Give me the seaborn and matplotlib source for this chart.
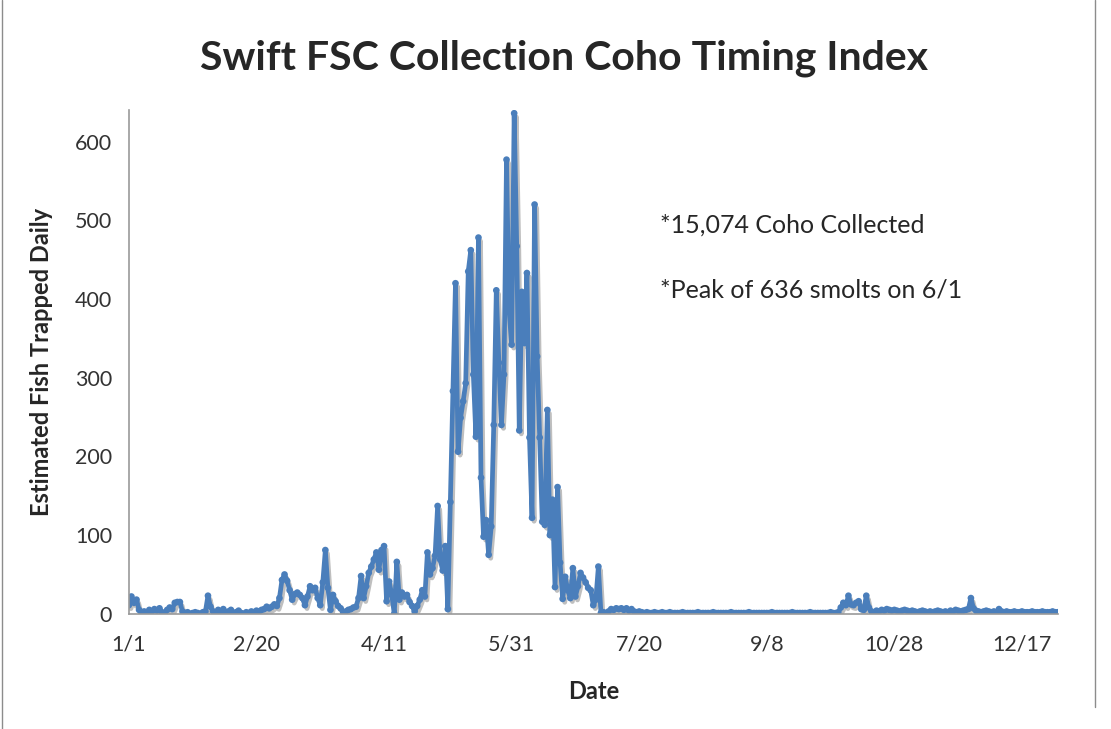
import pandas as pd
import seaborn as sns
import matplotlib
matplotlib.use("Agg")
import matplotlib.pyplot as plt
import matplotlib.patheffects as pe
from matplotlib.lines import Line2D

# Daily counts, 1/1 through 12/31
daily_counts = [
    11, 22, 14, 18, 5, 1, 3, 2, 5, 3,
    6, 4, 7, 2, 1, 5, 8, 6, 14, 15,
    15, 3, 1, 2, 0, 1, 2, 1, 0, 2,
    3, 23, 9, 3, 1, 5, 2, 6, 1, 3,
    5, 1, 2, 4, 1, 0, 2, 1, 3, 2,
    4, 3, 5, 6, 9, 7, 9, 12, 10, 20,
    43, 50, 42, 30, 18, 25, 27, 24, 20, 11,
    22, 35, 30, 33, 20, 11, 40, 81, 33, 5,
    24, 16, 10, 7, 2, 3, 5, 6, 8, 9,
    20, 48, 20, 35, 52, 60, 69, 78, 56, 81,
    86, 16, 41, 25, 0, 66, 18, 27, 22, 24,
    15, 10, 3, 10, 18, 30, 22, 78, 50, 58,
    74, 137, 69, 55, 86, 6, 142, 283, 420, 206,
    249, 270, 293, 435, 462, 304, 225, 478, 173, 98,
    119, 75, 111, 240, 411, 319, 240, 304, 577, 386,
    342, 636, 467, 233, 409, 344, 433, 224, 122, 520,
    327, 224, 117, 113, 259, 100, 145, 34, 161, 65,
    19, 47, 30, 20, 58, 22, 35, 52, 46, 40,
    33, 30, 11, 18, 60, 1, 2, 1, 3, 6,
    5, 7, 6, 7, 5, 7, 4, 6, 3, 2,
    3, 2, 1, 2, 1, 1, 2, 1, 1, 2,
    1, 1, 2, 1, 1, 1, 1, 2, 1, 1,
    1, 1, 1, 2, 1, 1, 1, 1, 1, 2,
    1, 1, 1, 1, 1, 1, 2, 1, 1, 1,
    1, 1, 1, 2, 1, 1, 1, 1, 1, 1,
    1, 1, 2, 1, 1, 1, 1, 1, 1, 1,
    2, 1, 1, 1, 1, 1, 1, 2, 1, 1,
    1, 1, 1, 1, 1, 2, 1, 1, 2, 8,
    14, 11, 23, 12, 11, 14, 16, 6, 5, 23,
    8, 3, 2, 4, 3, 5, 4, 6, 5, 4,
    5, 4, 3, 4, 5, 4, 3, 4, 3, 2,
    3, 4, 3, 2, 3, 2, 3, 4, 3, 2,
    3, 2, 4, 3, 5, 4, 3, 4, 5, 6,
    20, 7, 4, 3, 2, 3, 4, 3, 2, 3,
    2, 6, 3, 2, 3, 2, 2, 3, 2, 2,
    3, 2, 2, 2, 3, 2, 2, 2, 3, 2,
    2, 2, 3, 2, 2,
]
y_ticks = [0, 100, 200, 300, 400, 500, 600]
notes = ["*15,074 Coho Collected", "*Peak of 636 smolts on 6/1"]

df = pd.DataFrame({"date": pd.date_range("2013-01-01", periods=len(daily_counts)),
                   "fish": daily_counts})
tick_dates = df["date"][::50]
tick_labels = [f"{d.month}/{d.day}" for d in tick_dates]

sns.set_style("white")
plt.rcParams["font.family"] = ["Lato", "DejaVu Sans"]

fig = plt.figure(figsize=(11.11, 7.29), dpi=100)
ax = fig.add_axes([0.116, 0.158, 0.836, 0.691])

blue = "#4A7EBB"
sns.lineplot(data=df, x="date", y="fish", ax=ax, color=blue, linewidth=3.4,
             marker="o", markersize=4.8, markeredgewidth=0, markerfacecolor=blue)
ax.lines[0].set_path_effects([pe.SimpleLineShadow(offset=(1.5, -2.5), alpha=0.25),
                              pe.Normal()])

ax.set_xlim(df["date"].iloc[0], df["date"].iloc[-1])
ax.set_ylim(0, 640)
ax.set_xticks(tick_dates)
ax.set_xticklabels(tick_labels, fontsize=15.5, color="#333333")
ax.set_yticks(y_ticks)
ax.set_yticklabels([str(v) for v in y_ticks], fontsize=15.5, color="#333333")
ax.tick_params(axis="x", length=0, pad=15)
ax.tick_params(axis="y", length=0, pad=12)

for side in ["top", "right"]:
    ax.spines[side].set_visible(False)
for side in ["left", "bottom"]:
    ax.spines[side].set_color("#9a9a9a")
    ax.spines[side].set_linewidth(1.2)

ax.set_xlabel("Date", fontsize=17, fontweight="bold", labelpad=18)
ax.set_ylabel("Estimated Fish Trapped Daily", fontsize=17, fontweight="bold", labelpad=16)

fig.text(0.508, 0.92, "Swift FSC Collection Coho Timing Index", ha="center", va="center",
         fontsize=29.5, fontweight="bold")
fig.text(0.594, 0.691, notes[0], fontsize=18, va="center")
fig.text(0.594, 0.602, notes[1], fontsize=18, va="center")

# outer chart border
fig.add_artist(Line2D([0.002, 0.002], [0, 1], transform=fig.transFigure, color="#8c8c8c", lw=1))
fig.add_artist(Line2D([0.986, 0.986], [0.03, 1], transform=fig.transFigure, color="#8c8c8c", lw=1))

fig.savefig("out.png", dpi=100)
